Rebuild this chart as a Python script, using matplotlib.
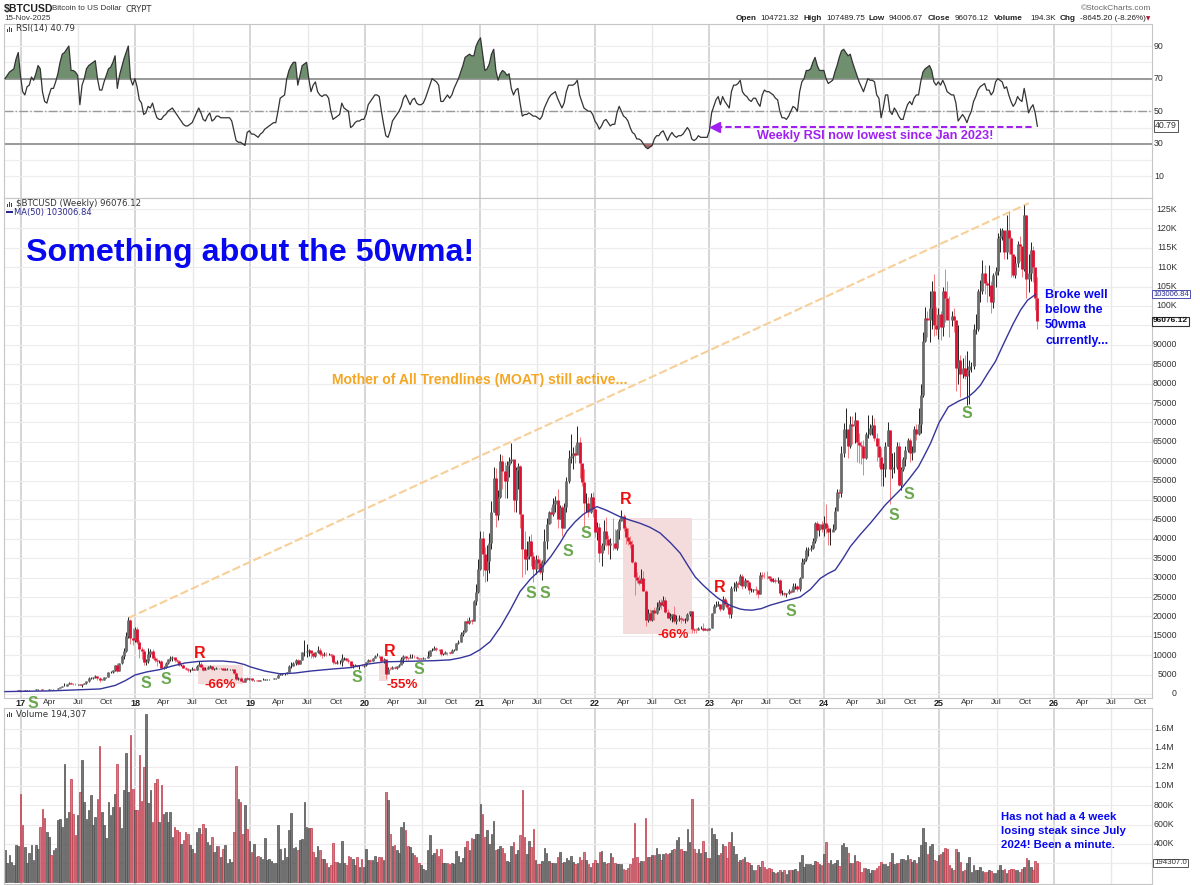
import matplotlib
matplotlib.use("Agg")
import matplotlib.pyplot as plt
from matplotlib.patches import Rectangle
import numpy as np

plt.rcParams['font.family'] = ['Liberation Sans', 'DejaVu Sans']

W, H = 1200, 885

# weekly closes in thousands, 10 weeks per row, from Nov 2016
close = [
    .73,.73,.77,.77,.78,.89,.96,.90,.82,.92,
    .92,1.01,1.02,1.05,1.18,1.27,1.25,.97,.96,1.08,
    1.18,1.17,1.24,1.33,1.55,1.80,2.05,2.05,2.50,2.90,
    2.65,2.55,2.50,2.55,2.35,2.65,2.75,3.25,4.05,4.10,
    4.35,4.60,4.10,3.70,3.70,4.35,4.35,5.60,5.70,6.10,
    7.40,5.90,8.00,9.70,11.0,15.0,19.0,14.5,14.0,16.8,
    13.5,11.5,11.2,8.2,8.5,10.2,11.0,9.2,8.7,8.4,
    8.5,6.8,7.0,8.0,8.9,9.3,9.6,8.7,8.5,7.4,
    7.6,6.8,6.4,6.2,6.3,6.5,6.3,7.3,7.7,7.0,
    6.3,6.4,6.9,7.2,6.4,6.5,6.7,6.6,6.6,6.3,
    6.4,6.4,6.4,6.4,5.5,3.9,4.0,3.4,3.2,4.0,
    3.8,4.0,3.6,3.6,3.5,3.4,3.6,3.6,3.8,3.8,
    3.9,3.9,4.0,4.0,5.0,5.1,5.3,5.3,5.7,7.2,
    7.3,8.0,8.7,7.8,8.7,10.7,10.8,11.2,11.3,10.6,
    9.8,10.8,11.3,10.3,10.1,10.4,10.3,10.3,10.0,8.2,
    8.1,8.3,8.3,9.2,9.2,8.8,8.5,7.3,7.3,7.5,
    7.1,7.3,7.2,7.4,8.2,8.7,8.4,9.3,9.9,9.9,
    9.7,8.6,8.9,5.2,6.5,6.4,6.9,6.8,7.1,7.5,
    8.9,9.7,9.4,9.2,9.5,9.6,9.5,9.3,9.1,9.1,
    9.3,9.3,9.9,11.3,11.3,11.8,11.6,11.5,10.2,10.4,
    10.9,10.7,10.6,11.3,11.4,13.1,13.5,15.5,16.0,18.7,
    18.2,19.2,18.8,24.0,26.4,32.2,40.2,36.0,32.0,34.3,
    39.0,47.0,55.8,46.2,50.9,60.0,57.4,55.0,58.9,60.0,
    60.5,50.0,57.8,58.8,46.5,37.5,34.7,35.7,39.5,35.5,
    32.3,34.7,33.7,31.5,34.2,39.5,43.8,47.0,46.5,49.0,
    50.0,45.2,48.3,42.8,48.2,55.0,60.9,61.3,62.0,61.5,
    65.0,59.5,54.7,49.2,49.3,46.8,50.8,47.7,41.7,43.1,
    36.3,38.5,42.0,40.0,38.3,39.0,38.8,37.7,42.2,44.5,
    45.8,42.7,40.4,39.5,38.6,34.0,30.1,29.3,28.6,29.8,
    26.6,19.0,21.0,19.2,21.6,20.8,22.5,23.6,23.0,24.3,
    21.2,19.6,20.0,20.5,18.9,19.3,19.5,19.4,19.0,19.2,
    20.6,21.3,16.8,16.6,16.5,17.0,17.1,16.6,16.8,16.5,
    16.9,20.9,22.7,23.0,23.3,21.8,24.6,23.2,22.3,20.6,
    27.4,27.5,28.5,28.3,30.5,27.8,29.5,28.9,26.9,26.9,
    27.1,26.8,25.9,30.6,30.5,30.4,30.3,29.9,29.2,29.3,
    29.0,29.4,26.0,26.0,25.9,26.0,26.5,26.3,27.9,27.9,
    27.0,29.9,34.1,34.7,37.1,37.4,37.7,39.5,44.0,42.3,
    43.7,42.6,44.0,42.8,41.8,41.8,42.6,47.3,52.0,51.7,
    62.0,68.3,68.4,64.0,69.7,69.0,70.7,65.0,64.3,64.0,
    60.9,67.0,67.0,68.5,69.3,66.0,64.0,61.0,58.0,58.0,
    64.0,68.0,58.0,58.5,58.5,64.0,54.0,58.0,60.5,63.0,
    65.5,62.0,62.5,68.4,67.0,69.5,77.0,91.0,97.0,96.5,
    99.5,104.0,95.0,94.0,98.0,94.5,104.0,102.0,96.5,96.4,
    97.5,96.5,84.0,86.0,82.5,84.0,82.0,83.5,84.5,84.5,
    94.0,94.0,104.0,104.0,108.5,106.0,105.5,105.5,101.0,108.0,
    109.0,117.5,118.0,119.5,114.0,119.5,117.5,113.5,108.0,111.0,
    116.0,115.5,109.5,123.5,107.0,108.5,114.5,110.0,102.0,96.1,
]
high = [
    .75,.78,.79,.78,.80,.90,1.0,1.03,.92,.93,
    .94,1.03,1.05,1.06,1.2,1.3,1.35,1.28,1.05,1.1,
    1.2,1.24,1.27,1.35,1.6,1.9,2.1,2.8,2.55,3.0,
    3.0,2.8,2.75,2.7,2.6,2.7,2.9,3.4,4.4,4.5,
    4.5,4.95,4.7,4.3,3.95,4.4,4.45,5.65,5.9,6.2,
    7.5,7.9,8.1,10.0,11.8,16.0,19.8,19.3,17.0,17.2,
    17.2,13.9,12.0,11.7,9.0,11.8,11.7,11.5,9.9,9.2,
    8.8,8.7,7.1,8.2,9.0,9.8,9.9,9.4,9.0,8.7,
    7.8,7.8,6.9,6.8,6.5,6.9,6.8,7.5,8.5,8.2,
    7.2,6.9,7.3,7.4,7.3,6.6,6.9,6.8,6.7,6.7,
    6.6,6.6,6.5,6.5,6.4,5.6,4.4,4.3,3.5,4.2,
    4.3,4.1,4.1,3.7,3.6,3.6,3.7,4.1,3.9,3.9,
    3.95,3.95,4.0,4.1,5.1,5.4,5.3,5.5,5.8,7.4,
    8.3,8.3,9.0,9.1,8.8,10.7,13.8,12.9,11.7,11.1,
    10.7,10.9,12.3,11.9,10.9,10.7,10.9,10.6,10.3,10.2,
    8.5,8.7,8.7,10.3,9.5,9.3,9.2,8.6,7.8,7.8,
    7.4,7.5,7.7,7.5,8.3,8.9,8.9,9.4,10.1,10.5,
    10.1,9.6,9.2,8.0,6.9,6.9,7.3,7.3,7.2,7.7,
    9.5,10.0,9.9,9.6,10.4,10.2,10.0,9.8,9.4,9.3,
    9.5,9.4,11.0,11.4,11.9,12.5,12.0,11.7,11.5,10.6,
    11.2,10.9,10.9,11.7,11.7,13.2,14.0,15.9,16.5,18.9,
    19.5,19.9,19.4,24.3,28.4,34.8,41.9,41.9,37.8,38.5,
    41.4,49.7,58.4,58.3,52.6,61.8,61.7,59.7,60.1,61.2,
    64.8,57.2,58.5,59.6,58.9,46.0,42.0,39.5,40.8,41.3,
    36.6,35.9,35.9,34.7,34.5,42.5,45.3,47.1,48.2,50.5,
    51.0,52.9,48.8,48.8,49.2,56.0,62.9,66.9,63.7,64.3,
    69.0,66.3,59.4,57.9,51.9,50.7,51.9,52.1,47.9,44.4,
    44.0,38.9,44.9,45.5,40.9,40.3,45.4,42.5,42.5,45.0,
    47.5,46.4,43.4,42.9,40.7,39.8,34.2,31.4,30.7,32.2,
    31.7,26.8,21.8,21.9,21.7,22.5,23.6,24.3,24.6,25.2,
    25.0,21.8,21.0,20.6,22.7,20.3,20.3,20.0,19.7,19.6,
    21.0,21.4,21.4,17.0,16.9,17.3,17.4,18.3,16.9,16.9,
    17.0,21.0,23.3,23.9,23.9,23.2,25.3,25.0,23.9,22.7,
    27.8,28.8,29.2,29.0,30.9,30.9,29.9,29.5,29.0,27.4,
    27.0,27.9,26.8,31.4,31.4,31.4,31.8,30.3,30.3,29.8,
    30.0,30.1,29.7,26.8,26.4,26.1,27.0,27.1,28.5,28.6,
    28.0,30.2,35.0,35.0,37.9,38.0,38.4,40.2,44.4,44.7,
    43.9,44.7,45.8,48.9,43.5,42.8,43.9,48.2,52.8,52.9,
    63.9,69.9,73.6,68.1,71.6,71.6,72.7,70.3,67.2,65.3,
    65.5,67.6,71.9,69.5,71.9,71.2,67.2,66.0,63.5,59.5,
    65.0,70.0,68.0,62.0,62.5,65.0,64.9,58.5,61.0,64.0,
    66.0,66.0,64.0,69.0,69.5,73.6,80.0,93.2,99.8,98.8,
    103.8,106.5,108.3,99.8,99.4,98.7,105.0,109.5,106.5,102.5,
    98.8,99.5,96.5,95.0,87.4,86.5,87.4,88.5,86.0,85.7,
    95.5,97.9,104.3,106.6,111.9,110.7,106.5,110.5,106.5,108.5,
    110.0,118.9,120.0,120.2,119.0,123.5,124.2,117.8,113.5,113.0,
    116.8,118.0,113.0,126.0,123.5,113.5,116.4,115.5,107.5,107.5,
]
low = [
    .70,.70,.73,.74,.76,.77,.88,.78,.75,.80,
    .88,.90,.98,.98,1.03,1.14,1.2,.94,.89,.93,
    1.06,1.12,1.15,1.25,1.4,1.65,1.8,1.95,2.0,2.45,
    2.55,2.3,2.3,2.3,2.2,1.85,2.5,2.6,3.1,3.8,
    3.9,4.2,3.6,3.0,3.5,3.7,4.2,4.3,5.3,5.4,
    6.0,5.6,5.9,7.8,9.0,10.9,14.5,13.0,12.7,13.5,
    12.8,9.2,9.0,7.6,7.6,8.0,9.5,9.0,8.2,7.3,
    7.9,6.6,6.5,6.7,7.8,8.6,8.6,8.3,8.1,7.1,
    7.1,6.6,6.1,5.8,5.8,6.2,6.1,6.3,7.3,6.9,
    6.0,6.2,6.4,6.6,6.2,6.1,6.4,6.5,6.4,6.1,
    6.2,6.2,6.3,6.2,5.2,3.5,3.6,3.3,3.1,3.2,
    3.6,3.6,3.4,3.4,3.4,3.4,3.4,3.5,3.6,3.7,
    3.7,3.8,3.8,3.9,4.0,4.8,4.9,5.0,5.2,5.6,
    6.6,7.2,7.5,7.4,7.7,8.8,9.7,9.6,9.7,9.4,
    9.2,9.6,10.5,9.9,9.4,9.9,9.9,10.0,9.6,7.7,
    7.8,7.8,7.7,7.3,8.8,8.4,8.1,6.8,6.6,7.1,
    7.0,6.5,7.1,6.9,7.3,8.2,8.2,8.4,9.2,9.7,
    9.3,8.4,8.0,3.9,5.9,6.2,6.4,6.5,6.5,7.0,
    7.7,8.1,8.8,8.8,9.2,9.3,9.3,9.0,8.9,8.9,
    9.0,9.0,9.3,9.9,11.0,11.4,11.1,11.1,9.9,10.0,
    10.3,10.1,10.4,10.6,11.2,11.4,12.9,13.3,15.0,15.9,
    16.2,18.0,18.0,18.8,23.0,26.0,32.0,30.5,28.9,29.2,
    31.2,37.5,47.0,43.0,44.9,50.4,52.9,50.5,50.4,55.9,
    59.5,47.0,46.9,52.9,42.9,30.1,31.0,32.0,34.9,33.0,
    28.8,31.0,32.1,31.0,29.3,33.5,37.5,43.8,44.0,46.0,
    47.0,42.9,45.0,40.7,42.9,47.0,54.4,59.5,58.0,59.5,
    62.3,55.6,53.5,42.8,47.0,45.5,46.6,45.6,40.5,39.7,
    34.0,32.9,37.0,38.2,36.0,34.9,37.0,37.5,37.2,40.0,
    44.5,42.0,38.6,38.5,37.6,33.7,25.4,28.7,28.0,28.5,
    26.5,17.6,18.6,18.7,18.9,19.0,20.7,21.6,22.0,22.7,
    20.9,19.5,19.0,18.6,18.3,18.1,18.9,18.2,18.7,18.3,
    18.7,20.0,15.7,15.6,15.7,16.4,16.7,16.3,16.4,16.3,
    16.4,16.9,20.9,22.3,22.7,21.5,21.7,22.8,21.9,19.6,
    19.6,26.6,26.6,27.2,28.2,27.1,27.2,27.7,25.8,26.4,
    26.3,25.4,24.8,25.7,29.6,29.9,29.6,29.5,28.9,28.9,
    28.6,28.6,25.4,25.5,25.3,24.9,25.9,26.0,26.5,27.0,
    26.6,26.6,29.8,33.4,34.2,35.6,36.8,37.5,39.0,40.3,
    40.6,41.7,40.8,41.5,38.5,38.5,41.9,42.3,47.7,50.5,
    50.9,61.0,66.0,60.8,63.5,64.5,64.6,59.7,59.6,59.2,
    56.5,60.7,66.0,66.7,66.7,65.1,60.0,58.5,53.5,53.7,
    56.0,64.0,49.0,55.7,57.0,58.0,53.7,52.5,57.5,58.8,
    62.5,59.8,60.4,62.3,65.5,66.8,67.4,76.5,90.8,92.0,
    90.7,94.2,92.2,92.5,91.5,91.3,92.2,96.0,97.9,92.0,
    94.8,93.3,78.2,80.0,76.6,81.5,81.2,74.5,74.7,83.0,
    83.9,92.9,93.5,101.0,103.0,103.0,101.0,102.5,98.2,99.5,
    105.0,108.0,114.0,117.0,112.0,112.0,113.5,107.5,107.4,107.3,
    110.0,111.5,107.5,109.0,102.0,103.5,106.5,106.2,98.9,94.0,
]
rsi = [
    70,72,74,75,76,82,86,72,62,60,
    65,66,71,69,73,78,76,62,56,55,
    60,64,64,68,73,80,85,86,88,90,
    75,75,74,72,54,66,70,76,78,79,
    80,81,70,63,63,68,72,76,77,80,
    84,64,72,77,82,86,90,70,66,70,
    65,57,55,48,49,53,52,55,50,46,
    45,45,47,48,50,51,52,50,48,46,
    44,42,41,41,42,43,46,49,52,49,
    45,44,47,49,44,45,47,47,46,46,
    46,46,46,44,38,32,31,31,30,29,
    37,38,36,36,35,34,36,37,39,40,
    41,42,43,43,50,58,59,60,70,75,
    78,80,80,66,72,78,79,80,70,62,
    66,68,62,60,59,60,60,58,50,45,
    46,47,48,55,52,51,50,40,41,43,
    44,44,45,45,48,54,56,58,60,60,
    59,50,42,35,34,38,44,46,48,50,
    53,58,60,57,54,57,58,55,54,54,
    55,58,62,66,70,69,68,66,56,56,
    58,60,58,60,64,67,70,74,78,83,
    84,85,84,84,90,93,95,85,75,76,
    79,85,88,75,69,73,75,74,72,73,
    64,60,63,64,55,47,48,48,49,48,
    47,47,46,45,47,52,55,58,60,61,
    62,58,55,52,55,62,66,66,66,67,
    69,60,56,52,51,50,50,48,44,42,
    39,41,44,45,43,41,42,42,49,53,
    50,47,46,44,40,37,36,33,33,32,
    30,28,27,28,29,33,35,35,37,38,
    35,32,35,37,35,34,35,35,36,38,
    40,38,33,32,33,35,34,34,34,34,
    38,49,53,57,59,54,59,56,54,52,
    62,66,66,67,69,62,60,59,57,56,
    58,58,55,53,60,63,62,62,61,60,
    58,57,50,46,46,45,47,50,53,52,
    50,62,68,70,75,75,76,80,83,78,
    75,75,75,70,67,68,69,74,78,83,
    87,88,86,84,85,80,76,72,68,65,
    62,66,70,69,69,68,60,58,46,52,
    60,60,50,48,52,50,47,45,45,50,
    54,56,54,58,60,60,68,74,76,77,
    78,75,68,66,68,66,69,66,62,61,
    60,60,55,44,46,48,46,43,47,50,
    56,59,63,65,66,67,63,63,60,62,
    68,70,69,68,64,65,60,56,53,55,
    59,57,56,64,57,49,52,54,49,40.79,
]
# weekly volume in thousands
volume = [
    333,195,280,210,175,385,375,915,590,370,
    195,300,390,230,385,340,575,765,670,525,
    470,280,330,360,645,660,575,1230,670,730,
    1070,715,495,700,940,1275,835,660,750,905,
    590,680,870,1420,730,590,455,835,700,785,
    915,1235,785,560,960,1345,940,1530,970,750,
    750,1330,850,1200,1750,820,955,630,1030,1070,
    630,1010,715,730,630,730,470,575,540,525,
    400,435,525,505,385,350,300,525,560,505,
    605,560,420,385,465,315,375,375,265,340,
    385,195,245,210,525,1210,870,835,505,800,
    550,430,315,400,265,270,265,245,455,230,
    245,220,195,195,590,350,230,360,265,540,
    725,360,370,330,435,445,835,575,565,560,
    315,265,375,330,245,245,195,160,175,410,
    210,210,195,430,195,175,270,265,245,175,
    265,160,245,160,350,230,235,235,270,210,
    265,265,230,940,860,505,375,385,330,300,
    575,625,540,375,370,300,280,265,195,175,
    140,130,330,495,280,300,340,270,350,195,
    195,195,190,195,190,325,270,210,255,370,
    430,335,455,445,505,500,810,715,465,540,
    395,505,640,335,350,375,360,300,220,210,
    380,415,290,335,490,965,470,290,425,370,
    550,230,190,190,220,360,305,220,195,195,
    200,265,310,195,210,250,230,270,210,190,
    200,265,230,310,230,190,160,195,230,195,
    310,320,210,190,200,300,265,195,190,190,
    185,140,130,150,190,255,620,265,195,220,
    215,670,265,265,280,280,360,290,230,290,
    305,290,300,335,350,435,470,350,325,320,
    550,415,865,350,300,340,300,430,310,255,
    250,565,500,445,280,300,400,380,255,420,
    525,380,290,210,230,240,265,210,200,180,
    130,130,175,160,220,160,140,150,140,110,
    90,100,130,110,130,80,125,125,130,140,
    120,205,280,160,190,185,185,175,225,210,
    185,175,290,420,200,235,185,200,235,165,
    385,410,370,300,195,195,280,220,205,110,
    150,150,140,95,125,130,150,165,210,185,
    185,165,210,305,185,195,200,240,245,230,
    280,245,210,230,200,265,385,560,420,290,
    375,400,235,215,280,290,315,355,350,180,
    150,125,350,310,205,120,130,200,265,110,
    175,125,130,160,120,110,100,125,120,90,
    90,130,175,125,140,95,130,140,140,125,
    125,110,140,160,250,230,160,125,220,194,
]
# 50 week average: year, thousands
ma_year = [2016.865,2017.257,2017.692,2017.823,2017.91,2017.997,2018.1,2018.215,2018.32,2018.433,
           2018.55,2018.65,2018.76,2018.868,2018.95,2019.0,2019.13,2019.26,2019.39,2019.52,
           2019.7,2019.87,2020.02,2020.175,2020.33,2020.48,2020.61,2020.74,2020.83,2020.916,
           2021.0,2021.09,2021.18,2021.264,2021.35,2021.44,2021.525,2021.62,2021.70,2021.76,
           2021.83,2021.9,2021.96,2022.02,2022.1,2022.22,2022.31,2022.396,2022.48,2022.57,
           2022.66,2022.745,2022.81,2022.875,2022.94,2023.006,2023.07,2023.137,2023.2,2023.267,
           2023.31,2023.37,2023.45,2023.53,2023.66,2023.79,2023.88,2023.965,2024.03,2024.096,
           2024.16,2024.227,2024.31,2024.40,2024.47,2024.53,2024.6,2024.66,2024.74,2024.82,
           2024.87,2024.925,2025.0,2025.08,2025.17,2025.255,2025.31,2025.36,2025.42,2025.49,
           2025.57,2025.646,2025.71,2025.77,2025.84]
ma_val = [.62,.8,1.3,2.2,3.4,4.9,5.7,6.3,7.2,8.0,
          8.4,8.5,8.5,8.2,7.6,7.0,5.9,5.2,5.4,5.9,
          6.4,6.8,7.7,8.3,8.4,8.5,8.6,8.8,9.3,10,
          11.4,13.5,17.3,21.6,26.4,29.6,32,35.5,39,42,
          44.4,46.3,47.4,48.3,47.4,45.7,44.8,44,43,41.5,
          39,36.3,33.2,30.2,28.2,26.4,24.8,23.5,22.6,21.9,
          21.7,21.6,22,22.9,24,25,27,29.8,31,32,
          34.8,38,41,44,46.5,48.7,50.8,52.6,55.5,58.6,
          61.4,64.6,70,74,75.5,76.6,78,79.6,82.5,85.7,
          90.8,95.5,99,101.5,103.0]

price_ticks = list(range(0, 130, 5))
rsi_ticks = [90, 70, 50, 30, 10]
vol_ticks = [200, 400, 600, 800, 1000, 1200, 1400, 1600]
vol_labels = ['', '400K', '600K', '800K', '1.0M', '1.2M', '1.4M', '1.6M']
years = list(range(2017, 2027))
boxes = [(2022.248, 2022.849, 15.5, 45.4), (2018.546, 2018.938, 2.5, 7.4), (2020.12, 2020.20, 3.3, 8.0)]

close = np.array(close)
high = np.array(high)
low = np.array(low)
volume = np.array(volume)
n = len(close)
week = 2016.865 + np.arange(n) * 0.01917
prev = np.r_[close[0], close[:-1]]
down = close < prev

fig = plt.figure(figsize=(W / 100, H / 100), dpi=100)


def panel(top, bottom):
    ax = fig.add_axes([4 / W, 1 - bottom / H, 1148 / W, (bottom - top) / H])
    ax.set_xlim(2016.856, 2026.854)
    for s in ax.spines.values():
        s.set_color('#c6c6c6')
    ax.tick_params(length=0, labelbottom=False, labelleft=False, labelright=False)
    for y in years:
        ax.axvline(y, color='#d6d6d6', lw=1.4, zorder=0)
        ax.axvline(y + .5, color='#e8e8e8', lw=1, zorder=0)
    ax.set_xticks([])
    ax.set_yticks([])
    return ax


def txt(x, y, s, **kw):
    kw.setdefault('va', 'center')
    return fig.text(x / W, 1 - y / H, s, **kw)


def icon(x, y):
    for dx, h in ((0, 3), (2, 5), (4, 4)):
        fig.add_artist(Rectangle(((x + dx) / W, 1 - y / H), 1.4 / W, h / H,
                                 transform=fig.transFigure, color='#444444', lw=0))


# RSI panel
ax1 = panel(24, 198)
ax1.set_ylim(-3.2, 103.5)
for v in range(10, 100, 10):
    ax1.axhline(v, color='#f0ebf0', lw=0.8, zorder=0)
ax1.axhline(70, color='#999999', lw=1.4, zorder=1)
ax1.axhline(30, color='#999999', lw=1.4, zorder=1)
ax1.axhline(50, color='#999999', lw=1, ls='-.', zorder=1)
ax1.fill_between(week, rsi, 70, where=np.array(rsi) > 70, interpolate=True, color='#6f8f6f', lw=0, zorder=2)
ax1.fill_between(week, rsi, 30, where=np.array(rsi) < 30, interpolate=True, color='#a86a6a', lw=0, zorder=2)
ax1.plot(week, rsi, color='#333333', lw=0.9, zorder=3)
ax1.plot([2023.06, 2025.81], [40.4, 40.4], color='#a020f0', lw=1.5, ls=(0, (3, 1.5)), zorder=4)
ax1.plot([2023.05], [40.4], marker='<', ms=7, color='#a020f0', zorder=4)
for v in rsi_ticks:
    txt(1154, 78.7 - (v - 70) * 1.63, str(v), fontsize=6.3, color='#333333')

# price panel
ax2 = panel(198, 698)
ax2.set_ylim(-1.03, 127.85)
for v in price_ticks:
    ax2.axhline(v, color='#eeeaee', lw=0.8, zorder=0)
    label = str(v * 1000) if v < 100 else '%dK' % v
    if v != 95:
        txt(1177, 694 - v * 3.88, label, fontsize=6.3, color='#333333', ha='right')
for x0, x1, y0, y1 in boxes:
    ax2.add_patch(Rectangle((x0, y0), x1 - x0, y1 - y0, color='#f5dcdc', lw=0, zorder=1))
ax2.plot([2017.94, 2025.78], [19.6, 126.5], color='#f7cf98', lw=1.5, ls=(0, (4, 1.5)), zorder=2)
ax2.vlines(week[~down], low[~down], high[~down], color='#222222', lw=0.7, capstyle='butt', zorder=3)
ax2.vlines(week[down], low[down], high[down], color='#f07a80', lw=0.7, capstyle='butt', zorder=3)
ax2.vlines(week[~down], prev[~down], close[~down], color='#6a6a6a', lw=2.0, capstyle='butt', zorder=4)
ax2.vlines(week[down], close[down], prev[down], color='#dc1030', lw=2.0, capstyle='butt', zorder=4)
ax2.plot(ma_year, ma_val, color='#35359c', lw=1, zorder=5)

# volume panel
ax3 = panel(708, 884)
ax3.set_ylim(-20, 1815)
for v, s in zip(vol_ticks, vol_labels):
    ax3.axhline(v, color='#eeeaee', lw=0.8, zorder=0)
    if s:
        txt(1174, 882 - v * 0.096, s, fontsize=6.3, color='#333333', ha='right')
colors = ['#cf7d85' if d else '#767676' for d in down]
edges = ['#c03a4a' if d else '#505050' for d in down]
ax3.bar(week, volume, width=0.014, color=colors, edgecolor=edges, lw=0.5, zorder=2)

# date strip
for y in years:
    yr = y - 2000
    x = 20.5 + (y - 2017) * 114.8
    txt(x, 703, str(yr), fontsize=6.5, fontweight='bold', ha='center', color='#222222')
    for q, lab in ((.25, 'Apr'), (.5, 'Jul'), (.75, 'Oct')):
        txt(x + q * 114.8, 703, lab, fontsize=6, ha='center', color='#333333')

# header
txt(4, 9, '$BTCUSD', fontsize=7.6, fontweight='bold', color='#222222')
txt(52, 9, 'Bitcoin to US Dollar', fontsize=5.8, color='#333333')
txt(126, 9, 'CRYPT', fontsize=6, color='#333333', family='DejaVu Sans')
txt(4, 19, '15-Nov-2025', fontsize=5.8, color='#333333')
txt(1151, 9, '©StockCharts.com', fontsize=6, ha='right', color='#666666')
head = [(736, 'Open', 1), (760, '104721.32', 0), (804, 'High', 1), (826, '107489.75', 0), (868, 'Low', 1),
        (889, '94006.67', 0), (928, 'Close', 1), (955, '96076.12', 0), (994, 'Volume', 1), (1030, '194.3K', 0),
        (1060, 'Chg', 1), (1080, '-8645.20 (-8.26%)', 0)]
for x, s, bold in head:
    txt(x, 19, s, fontsize=5.9, fontweight='bold' if bold else 'normal', color='#222222')
txt(1148, 19, '▼', fontsize=4, color='#b01030', ha='center', family='DejaVu Sans')

# panel labels
txt(16, 29, 'RSI(14) 40.79', fontsize=6.2, family='DejaVu Sans', color='#333333')
txt(16, 204, '$BTCUSD (Weekly) 96076.12', fontsize=6.2, family='DejaVu Sans', color='#333333')
txt(14, 212, 'MA(50) 103006.84', fontsize=6, family='DejaVu Sans', color='#28288c')
fig.add_artist(Rectangle((6 / W, 1 - 212.5 / H), 7 / W, 1.2 / H, transform=fig.transFigure, color='#28288c', lw=0))
txt(16, 714, 'Volume 194,307', fontsize=6.2, family='DejaVu Sans', color='#333333')
icon(7, 32)
icon(7, 207)
icon(7, 717)

# value tags on the right
tag = dict(boxstyle='square,pad=0.12', fc='white')
txt(1155, 126, '40.79', fontsize=6.3, color='#333333', bbox=dict(ec='#555555', lw=0.7, **tag))
txt(1153, 294, '103006.84', fontsize=5.4, color='#28288c', bbox=dict(ec='#5050b0', lw=0.7, **tag))
txt(1153, 321, '96076.12', fontsize=6, fontweight='bold', color='#111111', bbox=dict(ec='#333333', lw=0.8, **tag))
txt(1154, 863, '194307.0', fontsize=5.7, color='#333333', bbox=dict(ec='#555555', lw=0.7, **tag))

# hand annotations
txt(26, 253, 'Something about the 50wma!', fontsize=23.2, fontweight='bold', color='#0808f0')
txt(332, 380, 'Mother of All Trendlines (MOAT) still active...', fontsize=10.1, fontweight='bold', color='#f5a623')
txt(757, 136, 'Weekly RSI now lowest since Jan 2023!', fontsize=9.05, fontweight='bold', color='#a020f0')
for y, s in zip((295, 310, 325, 341), ('Broke well', 'below the', '50wma', 'currently...')):
    txt(1045, y, s, fontsize=9, fontweight='bold', color='#0808f0')
for y, s in zip((817, 831, 845), ('Has not had a 4 week', 'losing steak since July', '2024! Been a minute.')):
    txt(1001, y, s, fontsize=8.2, fontweight='bold', color='#0808f0')
for x, y in ((146, 684), (166, 680), (33, 703), (357, 678), (419, 670), (531, 593), (545, 593), (568, 551),
             (586, 534), (791, 612), (894, 516), (909, 495), (967, 414)):
    txt(x, y, 'S', fontsize=11.5, fontweight='bold', color='#6aa84f', ha='center')
for x, y in ((200, 653), (390, 651), (626, 500), (720, 588)):
    txt(x, y, 'R', fontsize=11.5, fontweight='bold', color='#f01010', ha='center')
for x, y, s in ((220, 685, '-66%'), (402, 685, '-55%'), (673, 635, '-66%')):
    txt(x, y, s, fontsize=9.6, fontweight='bold', color='#f01010', ha='center')

fig.savefig('out.png', dpi=100)
